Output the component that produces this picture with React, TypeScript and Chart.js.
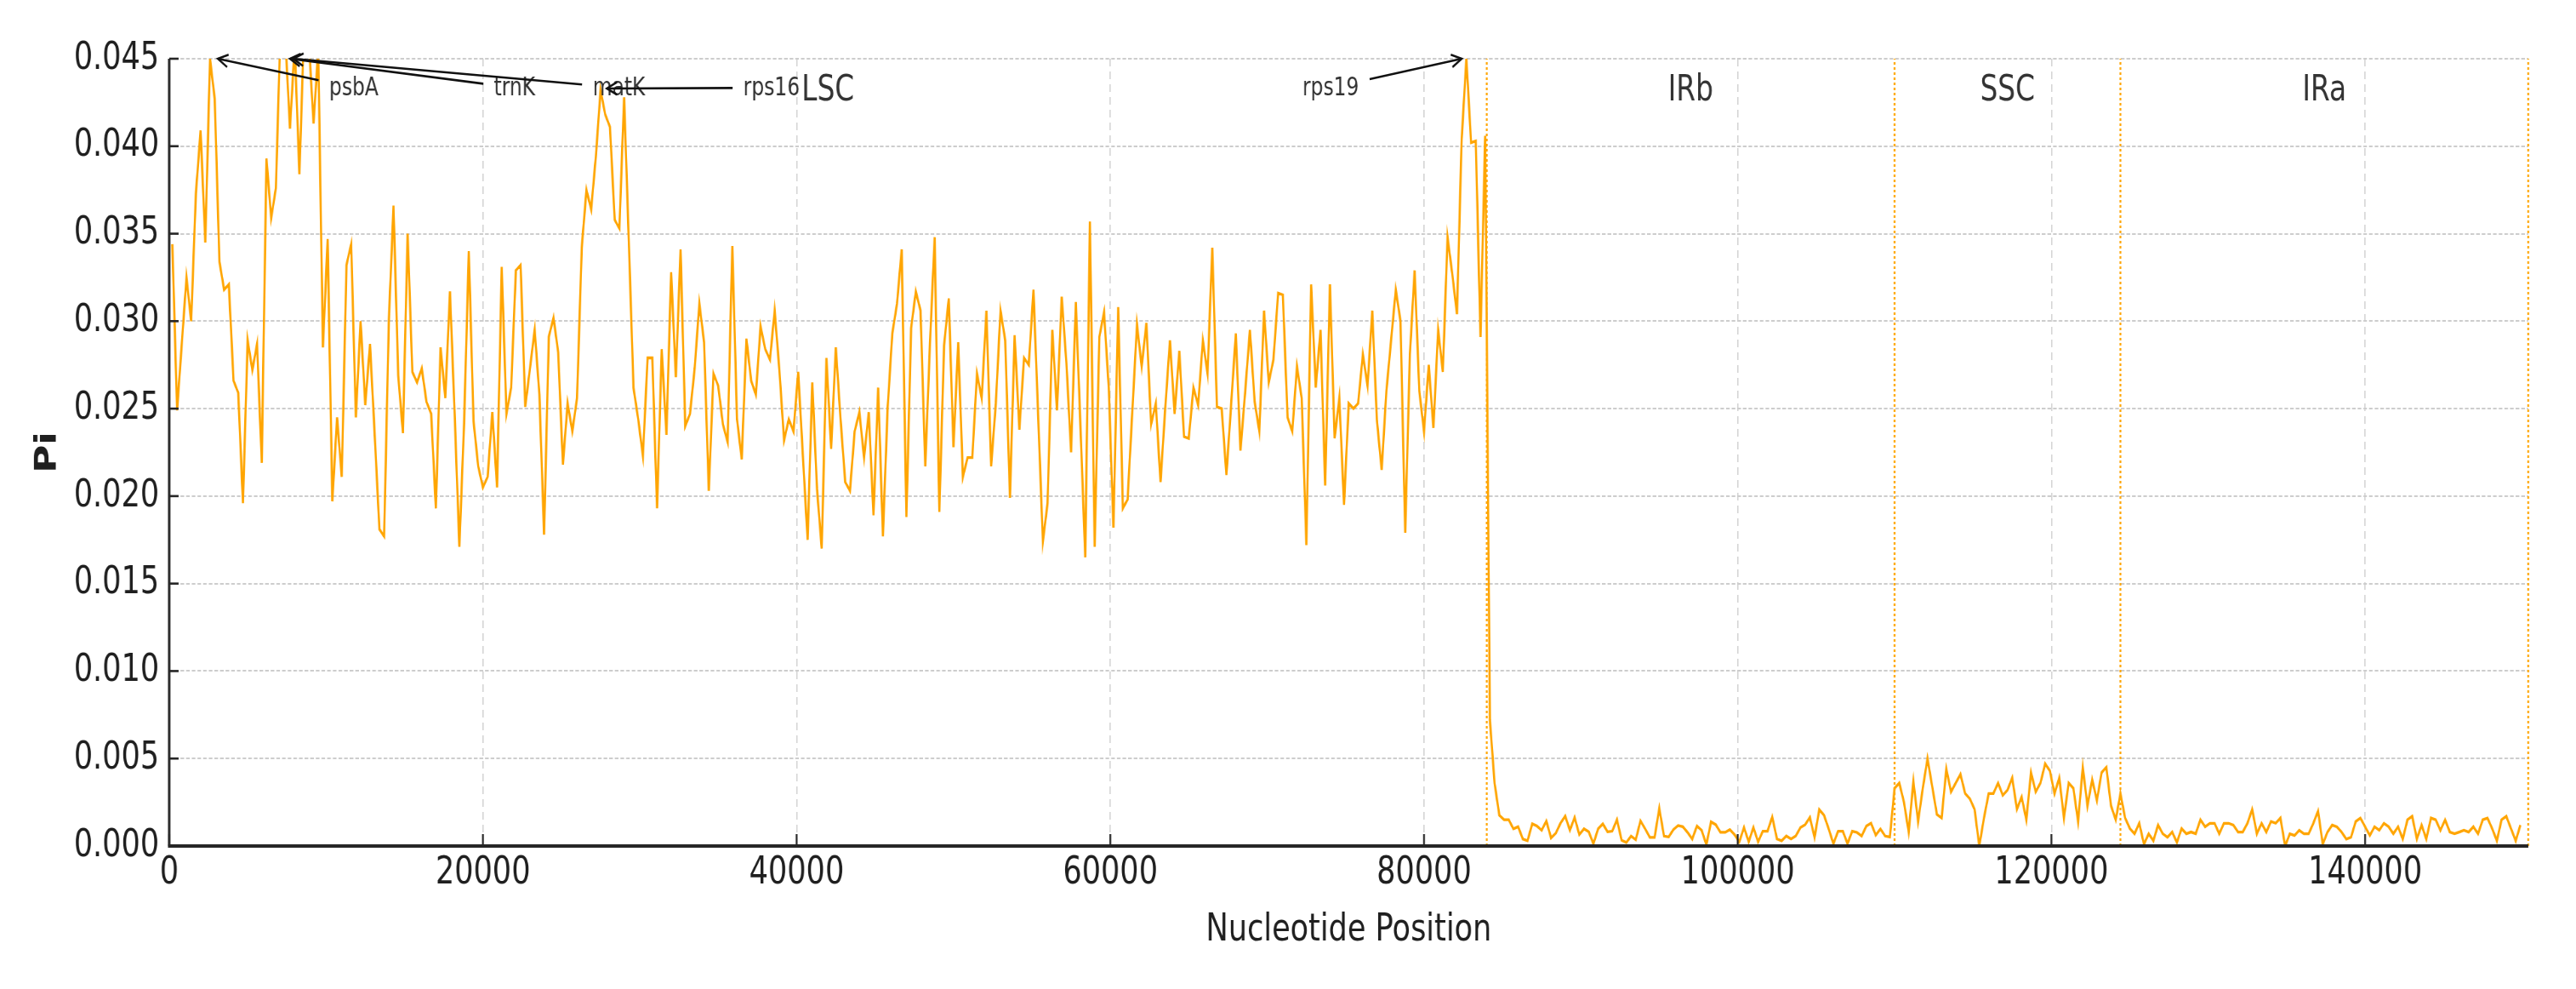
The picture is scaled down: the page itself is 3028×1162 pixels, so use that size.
import React, { useEffect, useRef } from 'react';
import { Chart, registerables } from 'chart.js';

Chart.register(...registerables);

// Sliding window layout (bp)
const WINDOW_START = 200;
const WINDOW_STEP = 300;

// Nucleotide diversity (Pi) per window, by region
const LSC_PI = [
  0.0344, 0.0249, 0.0287, 0.0325, 0.0300, 0.0373, 0.0409, 0.0345, 0.0450, 0.0427,
  0.0334, 0.0318, 0.0321, 0.0266, 0.0259, 0.0196, 0.0289, 0.0272, 0.0287, 0.0219,
  0.0393, 0.0359, 0.0376, 0.0470, 0.0462, 0.0410, 0.0458, 0.0384, 0.0468, 0.0460,
  0.0413, 0.0455, 0.0285, 0.0347, 0.0197, 0.0245, 0.0211, 0.0332, 0.0344, 0.0245,
  0.0300, 0.0252, 0.0287, 0.0235, 0.0181, 0.0177, 0.0300, 0.0366, 0.0269, 0.0236,
  0.0350, 0.0271, 0.0265, 0.0273, 0.0254, 0.0247, 0.0193, 0.0285, 0.0256, 0.0317,
  0.0246, 0.0171, 0.0242, 0.0340, 0.0243, 0.0217, 0.0205, 0.0211, 0.0248, 0.0205,
  0.0331,
  0.0247, 0.0262, 0.0329, 0.0332, 0.0251, 0.0273, 0.0295, 0.0258, 0.0178, 0.0291,
  0.0302, 0.0282, 0.0218, 0.0253, 0.0237, 0.0256, 0.0342, 0.0375, 0.0364, 0.0394,
  0.0432, 0.0418, 0.0411, 0.0358, 0.0353, 0.0428, 0.0346, 0.0262, 0.0244, 0.0223,
  0.0279, 0.0279, 0.0193, 0.0284, 0.0235, 0.0328, 0.0268, 0.0341, 0.0240, 0.0247,
  0.0273, 0.0310, 0.0288, 0.0203, 0.0270, 0.0263, 0.0241, 0.0231, 0.0343, 0.0244,
  0.0221, 0.0290, 0.0266, 0.0258, 0.0297, 0.0284, 0.0278, 0.0306, 0.0272, 0.0232,
  0.0244, 0.0237, 0.0271, 0.0223, 0.0175, 0.0265, 0.0204, 0.0170, 0.0279, 0.0227,
  0.0285,
  0.0244, 0.0208, 0.0203, 0.0237, 0.0248, 0.0222, 0.0248, 0.0189, 0.0262, 0.0177,
  0.0250, 0.0293, 0.0310, 0.0341, 0.0188, 0.0296, 0.0317, 0.0306, 0.0217, 0.0287,
  0.0348, 0.0191, 0.0286, 0.0313, 0.0228, 0.0288, 0.0211, 0.0222, 0.0222, 0.0270,
  0.0256, 0.0306, 0.0217, 0.0253, 0.0306, 0.0289, 0.0199, 0.0292, 0.0238, 0.0279,
  0.0275, 0.0318, 0.0246, 0.0174, 0.0196, 0.0295, 0.0249, 0.0314, 0.0276, 0.0225,
  0.0311, 0.0239, 0.0165, 0.0357, 0.0171, 0.0291, 0.0305, 0.0262, 0.0182, 0.0308,
  0.0193, 0.0198, 0.0248, 0.0298, 0.0274, 0.0299, 0.0241, 0.0253, 0.0208, 0.0250,
  0.0289, 0.0247, 0.0283, 0.0234, 0.0233, 0.0262, 0.0252, 0.0289, 0.0270, 0.0342,
  0.0251, 0.0250, 0.0212, 0.0252, 0.0293, 0.0226, 0.0260, 0.0295, 0.0254, 0.0237,
  0.0306, 0.0265, 0.0278, 0.0316, 0.0315, 0.0245, 0.0237, 0.0274, 0.0256, 0.0172,
  0.0321, 0.0262, 0.0295, 0.0206, 0.0321, 0.0233, 0.0256, 0.0195, 0.0253, 0.0250,
  0.0253, 0.0281, 0.0263, 0.0306, 0.0243, 0.0215, 0.0260, 0.0289, 0.0318, 0.0300,
  0.0179, 0.0281, 0.0329, 0.0260, 0.0237, 0.0275, 0.0239, 0.0295, 0.0271, 0.0348,
  0.0327, 0.0304, 0.0404, 0.0450, 0.0402, 0.0403, 0.0291, 0.0406,
];

const IRB_PI = [
  0.0072,
  0.00358, 0.00176, 0.00150, 0.00150, 0.00098, 0.00110, 0.00040, 0.00030, 0.00127, 0.00114,
  0.00090, 0.00143, 0.00046, 0.00073, 0.00130, 0.00171, 0.00090, 0.00163, 0.00065, 0.00098,
  0.00081, 0.00013, 0.00098, 0.00127, 0.00081, 0.00085, 0.00150, 0.00033, 0.00020, 0.00057,
  0.00036, 0.00143, 0.00098, 0.00049, 0.00049, 0.00215, 0.00057, 0.00052, 0.00094, 0.00117,
  0.00110, 0.00078, 0.00040, 0.00114, 0.00090, 0.00008, 0.00138, 0.00122, 0.00078, 0.00078,
  0.00094, 0.00065, 0.00024, 0.00106, 0.00024, 0.00106, 0.00024, 0.00085, 0.00085, 0.00166,
  0.00040, 0.00030, 0.00057, 0.00040, 0.00057, 0.00106, 0.00122, 0.00163, 0.00049, 0.00208,
  0.00176, 0.00098, 0.00013, 0.00085, 0.00085, 0.00013, 0.00085, 0.00078, 0.00057, 0.00114,
  0.00130, 0.00062, 0.00098, 0.00057, 0.00052,
];

const SSC_PI = [
  0.0033, 0.0036, 0.0025, 0.0008, 0.0037, 0.0014, 0.0033, 0.0050, 0.0034, 0.0018,
  0.0016, 0.0044, 0.0031, 0.0036, 0.0041, 0.0030, 0.0027, 0.0021, 0.0000, 0.0016,
  0.0030, 0.0030, 0.0036, 0.0029, 0.0032, 0.0039, 0.0021, 0.0028, 0.0015, 0.0042,
  0.0031, 0.0036, 0.0047, 0.0043, 0.0030, 0.0039, 0.0016, 0.0036, 0.0033, 0.0014,
  0.0045, 0.0023, 0.0038, 0.0026, 0.0042, 0.0045, 0.0023, 0.0015,
];

const IRA_PI = [
  0.0030, 0.0016, 0.0010, 0.0007, 0.0013, 0.0001, 0.0007, 0.0003, 0.0012, 0.0007,
  0.0005, 0.0008, 0.0002, 0.0010, 0.0007, 0.0008, 0.0007, 0.0015, 0.0011, 0.0013,
  0.0013, 0.0007, 0.0013, 0.0013, 0.0012, 0.0008, 0.0008, 0.0013, 0.0021, 0.0007,
  0.0013, 0.0008, 0.0014, 0.0013, 0.0016, 0.0000, 0.0007, 0.0006, 0.0009, 0.0007,
  0.0007, 0.0013, 0.0020, 0.0001, 0.0008, 0.0012, 0.0011, 0.0008, 0.0004, 0.0005,
  0.0014, 0.0016, 0.0011, 0.0006, 0.0011, 0.0009, 0.0013, 0.0011, 0.0007, 0.0011,
  0.0004, 0.0015, 0.0017, 0.0004, 0.0012, 0.0004, 0.0016, 0.0015, 0.0009, 0.0015,
  0.0008, 0.0007, 0.0008, 0.0009, 0.0008, 0.0011, 0.0007, 0.0015, 0.0016, 0.0010,
  0.0003, 0.0015, 0.0017, 0.0010, 0.0003, 0.0012,
];

// Regions
const REGION_LABELS = ['LSC', 'IRb', 'SSC', 'IRa'];
const REGION_BOUNDS = [0, 84000, 110000, 124400, 150400];
const REGION_LABEL_Y = 0.0426;

// Axis ticks
const X_TICKS = [0, 20000, 40000, 60000, 80000, 100000, 120000, 140000];
const Y_TICKS = [0, 0.005, 0.01, 0.015, 0.02, 0.025, 0.03, 0.035, 0.04, 0.045];

// Annotated hotspots
const GENE_NAMES = ['psbA', 'trnK', 'matK', 'rps16', 'rps19'];
const GENE_X = [3100, 7700, 7900, 27900, 82400];
const GENE_Y = [0.045, 0.045, 0.045, 0.0433, 0.045];
const GENE_LABEL_X = [10200, 20700, 27000, 36600, 72250];
const GENE_LABEL_Y = 0.0429;

const FONT = "'DejaVu Sans', 'Liberation Sans', sans-serif";
const CANVAS_W = 3882;
const CANVAS_H = 1162;
const DISPLAY_W = 3028;

const decorPlugin = {
  id: 'decor',
  beforeDatasetsDraw(chart: any) {
    const { ctx, chartArea: a, scales } = chart;
    const x = scales.x;
    ctx.save();
    ctx.strokeStyle = '#FFA500';
    ctx.lineWidth = 2.6;
    ctx.setLineDash([3, 3]);
    REGION_BOUNDS.slice(1).forEach((b) => {
      const px = x.getPixelForValue(b);
      ctx.beginPath();
      ctx.moveTo(px, a.bottom);
      ctx.lineTo(px, a.top);
      ctx.stroke();
    });
    ctx.restore();
  },
  afterDraw(chart: any) {
    const { ctx, chartArea: a, scales } = chart;
    const x = scales.x;
    const y = scales.y;
    ctx.save();
    // spines
    ctx.setLineDash([]);
    ctx.strokeStyle = '#262626';
    ctx.lineWidth = 3.6;
    ctx.beginPath();
    ctx.moveTo(a.left, a.top);
    ctx.lineTo(a.left, a.bottom);
    ctx.stroke();
    ctx.lineWidth = 4;
    ctx.beginPath();
    ctx.moveTo(a.left - 1.8, a.bottom);
    ctx.lineTo(a.right, a.bottom);
    ctx.stroke();
    // inward ticks
    ctx.lineWidth = 2.6;
    X_TICKS.forEach((v) => {
      const px = x.getPixelForValue(v);
      ctx.beginPath();
      ctx.moveTo(px, a.bottom);
      ctx.lineTo(px, a.bottom - 14);
      ctx.stroke();
    });
    Y_TICKS.forEach((v) => {
      const py = y.getPixelForValue(v);
      ctx.beginPath();
      ctx.moveTo(a.left, py);
      ctx.lineTo(a.left + 14, py);
      ctx.stroke();
    });
    // region labels
    ctx.fillStyle = '#333333';
    ctx.font = `42px ${FONT}`;
    ctx.textAlign = 'center';
    ctx.textBaseline = 'alphabetic';
    REGION_LABELS.forEach((lab, i) => {
      const mid = (REGION_BOUNDS[i] + REGION_BOUNDS[i + 1]) / 2;
      ctx.fillText(lab, x.getPixelForValue(mid), y.getPixelForValue(REGION_LABEL_Y));
    });
    // annotations
    ctx.font = `30px ${FONT}`;
    ctx.textAlign = 'left';
    GENE_NAMES.forEach((g, i) => {
      const tx = x.getPixelForValue(GENE_LABEL_X[i]);
      const ty = y.getPixelForValue(GENE_LABEL_Y);
      ctx.fillStyle = '#333333';
      ctx.fillText(g, tx, ty);
      const w = ctx.measureText(g).width;
      const x0 = tx - 16;
      const x1 = tx + w + 16;
      const y0 = ty - 30;
      const y1 = ty + 13;
      const cx = tx + w / 2;
      const cy = ty - 9;
      const px = x.getPixelForValue(GENE_X[i]);
      const py = y.getPixelForValue(GENE_Y[i]);
      const dx = px - cx;
      const dy = py - cy;
      let t = 1;
      if (dx !== 0) t = Math.min(t, ((dx > 0 ? x1 : x0) - cx) / dx);
      if (dy !== 0) t = Math.min(t, ((dy > 0 ? y1 : y0) - cy) / dy);
      const sx = cx + dx * t;
      const sy = cy + dy * t;
      ctx.strokeStyle = '#111111';
      ctx.lineWidth = 2.6;
      ctx.beginPath();
      ctx.moveTo(sx, sy);
      ctx.lineTo(px, py);
      ctx.stroke();
      const ang = Math.atan2(py - sy, px - sx);
      const L = 17;
      ctx.beginPath();
      ctx.moveTo(px - L * Math.cos(ang - 0.45), py - L * Math.sin(ang - 0.45));
      ctx.lineTo(px, py);
      ctx.lineTo(px - L * Math.cos(ang + 0.45), py - L * Math.sin(ang + 0.45));
      ctx.stroke();
    });
    ctx.restore();
  },
};

export default function App() {
  const canvasRef = useRef<HTMLCanvasElement | null>(null);

  useEffect(() => {
    document.body.style.margin = '0';
    const canvas = canvasRef.current;
    if (!canvas) return;
    const values = [...LSC_PI, ...IRB_PI, ...SSC_PI, ...IRA_PI];
    const points = values.map((v, j) => ({ x: WINDOW_START + j * WINDOW_STEP, y: v }));

    const chart = new Chart(canvas, {
      type: 'line',
      data: {
        datasets: [
          {
            data: points,
            borderColor: '#FFA500',
            backgroundColor: '#FFA500',
            borderWidth: 3.3,
            pointRadius: 0,
            tension: 0,
            fill: false,
          },
        ],
      },
      options: {
        responsive: false,
        animation: false,
        devicePixelRatio: 1,
        layout: { padding: { left: 0, right: 72, top: 69, bottom: 0 } },
        plugins: {
          legend: { display: false },
          tooltip: { enabled: false },
        },
        font: { family: FONT },
        scales: {
          x: {
            type: 'linear',
            min: 0,
            max: REGION_BOUNDS[REGION_BOUNDS.length - 1],
            afterBuildTicks: (s: any) => {
              s.ticks = X_TICKS.map((v) => ({ value: v }));
            },
            afterFit: (s: any) => {
              s.height = 168;
            },
            grid: { color: '#d4d4d4', lineWidth: 1.8, drawTicks: false },
            border: { display: false, dash: [9, 6] },
            ticks: {
              font: { family: FONT, size: 45 },
              color: '#1f1f1f',
              padding: 5,
              maxRotation: 0,
              autoSkip: false,
              callback: (v: any) => String(v),
            },
            title: {
              display: true,
              text: 'Nucleotide Position',
              font: { family: FONT, size: 45 },
              color: '#1f1f1f',
              padding: { top: 0, bottom: 42 },
            },
          },
          y: {
            type: 'linear',
            min: 0,
            max: 0.045,
            afterBuildTicks: (s: any) => {
              s.ticks = Y_TICKS.map((v) => ({ value: v }));
            },
            afterFit: (s: any) => {
              s.width = 255;
            },
            grid: { color: '#cdcdcd', lineWidth: 2, drawTicks: false },
            border: { display: false, dash: [5.5, 3] },
            ticks: {
              font: { family: FONT, size: 45 },
              color: '#1f1f1f',
              padding: 15,
              callback: (v: any) => Number(v).toFixed(3),
            },
            title: {
              display: true,
              text: 'Pi',
              font: { family: FONT, size: 45, weight: 'bold' },
              color: '#1f1f1f',
              padding: { top: 45, bottom: 0 },
            },
          },
        },
      } as any,
      plugins: [decorPlugin],
    });

    return () => {
      chart.destroy();
    };
  }, []);

  return (
    <canvas
      ref={canvasRef}
      width={CANVAS_W}
      height={CANVAS_H}
      style={{ width: `${DISPLAY_W}px`, height: `${CANVAS_H}px`, display: 'block' }}
    />
  );
}
